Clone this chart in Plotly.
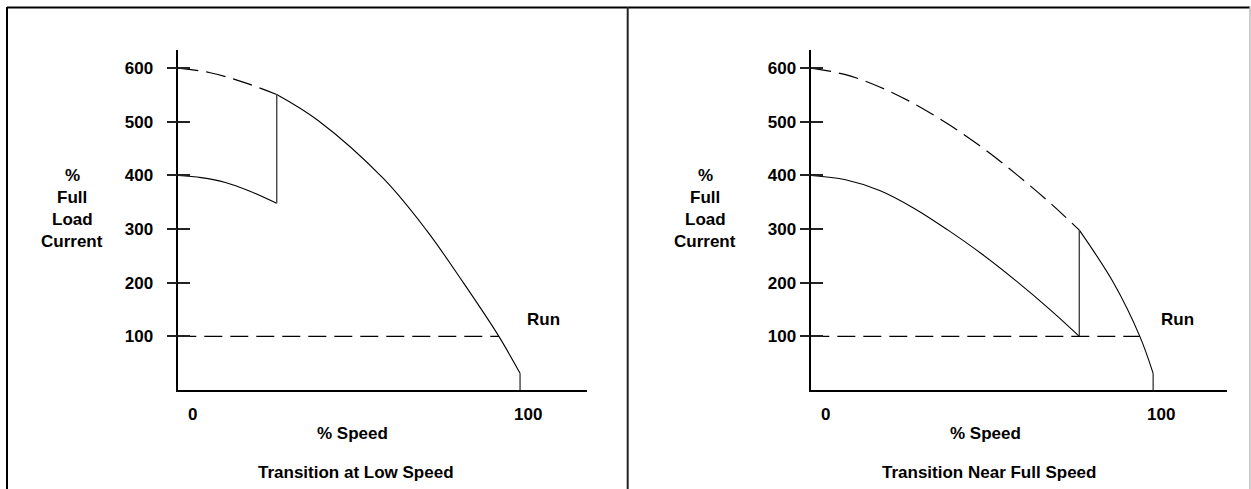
import plotly.graph_objects as go

# ---------------- data ----------------
y_tick_vals = [100, 200, 300, 400, 500, 600]
y_tick_text = ["100", "200", "300", "400", "500", "600"]
x_tick_vals = [0, 100]
x_tick_text = ["0", "100"]
y_title_lines = ["%", "Full", "Load", "Current"]
panel_titles = ["Transition at Low Speed", "Transition Near Full Speed"]
x_title = "% Speed"
run_label = "Run"

# Left panel: transition at low speed
L_dash_x = [0, 9.0, 18.5, 28.8]
L_dash_y = [600, 592, 575, 551]
L_upper_x = [28.8, 40.8, 60.2, 72.6, 83.2, 93.8, 100]
L_upper_y = [551, 503, 393, 298, 202, 100, 31]
L_lower_x = [0, 6.7, 13.8, 20.8, 28.8]
L_lower_y = [400, 396, 387, 371, 348]
L_switch_x = [28.8, 28.8]
L_switch_y = [348, 551]
L_end_x = [100, 100]
L_end_y = [31, 0]
L_run_x = [0, 93.8]
L_run_y = [100, 100]

# Right panel: transition near full speed
R_dash_x = [0, 10, 20, 30, 40, 50, 60, 70, 78.4]
R_dash_y = [600, 588, 565, 534, 496, 452, 402, 348, 298]
R_upper_x = [78.4, 88.4, 96.1, 100]
R_upper_y = [298, 200, 100, 31]
R_lower_x = [0, 10, 20, 30, 40, 50, 60, 70, 78.4]
R_lower_y = [400, 392, 372, 339, 298, 253, 203, 149, 100]
R_switch_x = [78.4, 78.4]
R_switch_y = [100, 298]
R_end_x = [100, 100]
R_end_y = [31, 0]
R_run_x = [0, 96.1]
R_run_y = [100, 100]

FONT = "Liberation Sans, Arial, Helvetica, sans-serif"
W, H = 1251, 489

fig = go.Figure()

def add_panel(xa, ya, dash_x, dash_y, up_x, up_y, lo_x, lo_y, sw_x, sw_y, end_x, end_y,
              run_x, run_y):
    fig.add_trace(go.Scatter(x=dash_x, y=dash_y, mode="lines", xaxis=xa, yaxis=ya,
                             line=dict(color="black", width=1.2, dash="20px,8px"),
                             line_shape="spline", hoverinfo="skip"))
    fig.add_trace(go.Scatter(x=up_x, y=up_y, mode="lines", xaxis=xa, yaxis=ya,
                             line=dict(color="black", width=1.1), line_shape="spline",
                             hoverinfo="skip"))
    fig.add_trace(go.Scatter(x=lo_x, y=lo_y, mode="lines", xaxis=xa, yaxis=ya,
                             line=dict(color="black", width=1.1), line_shape="spline",
                             hoverinfo="skip"))
    fig.add_trace(go.Scatter(x=sw_x, y=sw_y, mode="lines", xaxis=xa, yaxis=ya,
                             line=dict(color="#444", width=1.4), hoverinfo="skip"))
    fig.add_trace(go.Scatter(x=end_x, y=end_y, mode="lines", xaxis=xa, yaxis=ya,
                             line=dict(color="#444", width=1.4), hoverinfo="skip"))
    fig.add_trace(go.Scatter(x=run_x, y=run_y, mode="lines", xaxis=xa, yaxis=ya,
                             line=dict(color="black", width=1.3, dash="18px,8px"),
                             hoverinfo="skip"))

add_panel("x", "y", L_dash_x, L_dash_y, L_upper_x, L_upper_y, L_lower_x, L_lower_y,
          L_switch_x, L_switch_y, L_end_x, L_end_y, L_run_x, L_run_y)
add_panel("x2", "y2", R_dash_x, R_dash_y, R_upper_x, R_upper_y, R_lower_x, R_lower_y,
          R_switch_x, R_switch_y, R_end_x, R_end_y, R_run_x, R_run_y)
# empty traces to anchor the inside-tick overlay axes
fig.add_trace(go.Scatter(x=[], y=[], xaxis="x", yaxis="y3", showlegend=False))
fig.add_trace(go.Scatter(x=[], y=[], xaxis="x2", yaxis="y4", showlegend=False))

YDOM = [0.2025, 0.8978]
YR = [0, 634]
tickfont = dict(family=FONT, size=17, color="black", weight="bold")

def xax(dom, rng):
    return dict(domain=dom, range=rng, showgrid=False, zeroline=False, showline=True,
                linecolor="black", linewidth=1.5, ticks="", showticklabels=False,
                fixedrange=True)

def yax(anchor, standoff):
    return dict(domain=YDOM, range=YR, anchor=anchor, showgrid=False, zeroline=False,
                showline=True, linecolor="black", linewidth=1.5, ticks="outside",
                ticklen=10, tickwidth=1.5, tickcolor="#222", tickvals=y_tick_vals,
                ticktext=y_tick_text, tickfont=tickfont, ticklabelstandoff=standoff,
                fixedrange=True)

def yin(anchor, over):
    return dict(domain=YDOM, range=YR, anchor=anchor, overlaying=over, matches=over,
                showgrid=False, zeroline=False, showline=False, ticks="inside",
                ticklen=12, tickwidth=1.5, tickcolor="#222", tickvals=y_tick_vals,
                showticklabels=False, fixedrange=True)

fig.update_layout(
    width=W, height=H, margin=dict(l=0, r=0, t=0, b=0),
    paper_bgcolor="white", plot_bgcolor="white", showlegend=False,
    xaxis=xax([178.3 / W, 586.7 / W], [0, 119.5]),
    xaxis2=xax([811.3 / W, 1227 / W], [0, 121.6]),
    yaxis=yax("x", 10),
    yaxis2=yax("x2", 0),
    yaxis3=yin("x", "y"),
    yaxis4=yin("x2", "y2"),
)
fig.update_layout(xaxis2_anchor="y2", xaxis_anchor="y")

ann = []
title_font = dict(family=FONT, size=17, color="black", weight="bold")
for i, (xr, yr) in enumerate([("x", "y"), ("x2", "y2")]):
    for v, t, sh in zip(x_tick_vals, x_tick_text, [14.5, 8]):
        ann.append(dict(x=v, y=0, xref=xr, yref=yr, text=t, showarrow=False,
                        xshift=sh, yshift=-25, font=title_font))
    ann.append(dict(x=51, y=0, xref=xr, yref=yr, text=x_title, showarrow=False,
                    yshift=-44, font=title_font))
    ann.append(dict(x=52, y=0, xref=xr, yref=yr, text=panel_titles[i], showarrow=False,
                    yshift=-83, font=title_font))
    ann.append(dict(x=107, y=132, xref=xr, yref=yr, text=run_label, showarrow=False,
                    font=title_font))
    for j, t in enumerate(y_title_lines):
        ann.append(dict(x=0, y=400, xref=xr, yref=yr, text=t, showarrow=False,
                        xshift=-106, yshift=-(j * 22), font=title_font))
fig.update_layout(annotations=ann)

shapes = [
    dict(type="line", xref="paper", yref="paper", x0=7 / W, x1=1250 / W,
         y0=1 - 7.5 / H, y1=1 - 7.5 / H, line=dict(color="black", width=2)),
    dict(type="line", xref="paper", yref="paper", x0=7 / W, x1=7 / W,
         y0=1 - 7 / H, y1=0, line=dict(color="black", width=2)),
    dict(type="line", xref="paper", yref="paper", x0=627.7 / W, x1=627.7 / W,
         y0=1 - 7 / H, y1=0, line=dict(color="#222", width=2)),
    dict(type="line", xref="paper", yref="paper", x0=1250 / W, x1=1250 / W,
         y0=1 - 7 / H, y1=0, line=dict(color="#bbb", width=1.5)),
]
fig.update_layout(shapes=shapes)

fig.write_html("out.html", config={"displayModeBar": False},
               post_script="document.body.style.margin='0';document.body.style.overflow='hidden';")
